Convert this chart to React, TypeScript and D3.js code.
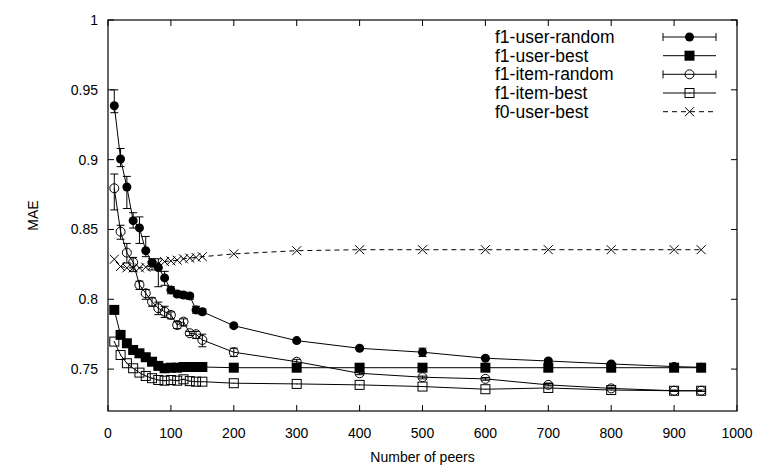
import { useEffect, useRef } from "react";
import * as d3 from "d3";

const peers = [10, 20, 30, 40, 50, 60, 70, 80, 90, 100, 110, 120, 130, 140, 150, 200, 300, 400, 500, 600, 700, 800, 900, 943];

const userRandom = [0.9386, 0.9005, 0.8804, 0.8563, 0.8511, 0.8348, 0.8262, 0.8227, 0.8153, 0.8067, 0.8038, 0.8031, 0.8024, 0.7924, 0.7911, 0.7811, 0.7704, 0.7649, 0.7621, 0.7578, 0.7558, 0.7537, 0.7518, 0.7513];
const userRandomLow = [0.9336, 0.895, 0.865, 0.851, 0.840, 0.8305, 0.821, 0.809, 0.810, 0.804, 0.802, 0.801, 0.800, 0.790, 0.789, 0.780, 0.769, 0.764, 0.759, 0.757, 0.755, 0.753, 0.751, 0.751];
const userRandomHigh = [0.950, 0.908, 0.888, 0.862, 0.859, 0.845, 0.829, 0.829, 0.820, 0.809, 0.806, 0.805, 0.804, 0.795, 0.793, 0.782, 0.771, 0.766, 0.765, 0.759, 0.757, 0.754, 0.753, 0.752];

const userBest = [0.7924, 0.7745, 0.7685, 0.7637, 0.7613, 0.7585, 0.7553, 0.7523, 0.7506, 0.751, 0.751, 0.7515, 0.7515, 0.7515, 0.7515, 0.751, 0.751, 0.751, 0.751, 0.751, 0.751, 0.751, 0.751, 0.751];

const itemRandom = [0.8795, 0.8484, 0.8334, 0.8265, 0.8103, 0.8043, 0.7983, 0.7936, 0.7911, 0.7888, 0.7816, 0.7840, 0.7757, 0.7750, 0.7709, 0.7621, 0.7553, 0.7470, 0.7442, 0.7430, 0.7387, 0.7362, 0.7345, 0.7345];
const itemRandomLow = [0.864, 0.843, 0.826, 0.820, 0.807, 0.800, 0.795, 0.789, 0.787, 0.786, 0.779, 0.781, 0.774, 0.772, 0.766, 0.759, 0.754, 0.746, 0.743, 0.742, 0.738, 0.736, 0.734, 0.734];
const itemRandomHigh = [0.8897, 0.853, 0.840, 0.830, 0.813, 0.807, 0.801, 0.798, 0.795, 0.791, 0.784, 0.786, 0.777, 0.777, 0.775, 0.765, 0.757, 0.748, 0.745, 0.744, 0.740, 0.737, 0.735, 0.735];

const itemBest = [0.7697, 0.7601, 0.7542, 0.7506, 0.7475, 0.7451, 0.7435, 0.7422, 0.7417, 0.7422, 0.7417, 0.7427, 0.7414, 0.741, 0.741, 0.7399, 0.7394, 0.7387, 0.7375, 0.7356, 0.7365, 0.735, 0.7345, 0.7345];

const f0UserBest = [0.8287, 0.8235, 0.8225, 0.8225, 0.8225, 0.823, 0.824, 0.8255, 0.827, 0.8275, 0.828, 0.829, 0.8295, 0.830, 0.8305, 0.8325, 0.8348, 0.8355, 0.8355, 0.8355, 0.8355, 0.8355, 0.8355, 0.8355];

const xTicks = [0, 100, 200, 300, 400, 500, 600, 700, 800, 900, 1000];
const yTicks = [0.75, 0.8, 0.85, 0.9, 0.95, 1];

const SERIES = [
  { name: "f1-user-random", values: userRandom, low: userRandomLow, high: userRandomHigh, marker: "circleFilled", dashed: false },
  { name: "f1-user-best", values: userBest, low: null, high: null, marker: "squareFilled", dashed: false },
  { name: "f1-item-random", values: itemRandom, low: itemRandomLow, high: itemRandomHigh, marker: "circleOpen", dashed: false },
  { name: "f1-item-best", values: itemBest, low: null, high: null, marker: "squareOpen", dashed: false },
  { name: "f0-user-best", values: f0UserBest, low: null, high: null, marker: "cross", dashed: true },
];

const FONT = "'Liberation Sans', Arial, sans-serif";

function drawMarker(g, type, x, y) {
  if (type === "circleFilled") {
    g.append("circle").attr("cx", x).attr("cy", y).attr("r", 4.5).attr("fill", "#000");
  } else if (type === "circleOpen") {
    g.append("circle").attr("cx", x).attr("cy", y).attr("r", 4.5).attr("fill", "none").attr("stroke", "#000").attr("stroke-width", 1);
  } else if (type === "squareFilled") {
    g.append("rect").attr("x", x - 5).attr("y", y - 5).attr("width", 10).attr("height", 10).attr("fill", "#000");
  } else if (type === "squareOpen") {
    g.append("rect").attr("x", x - 4.5).attr("y", y - 4.5).attr("width", 9).attr("height", 9).attr("fill", "none").attr("stroke", "#000").attr("stroke-width", 1);
    g.append("rect").attr("x", x - 0.5).attr("y", y - 0.5).attr("width", 1).attr("height", 1).attr("fill", "#000");
  } else if (type === "cross") {
    g.append("path")
      .attr("d", `M${x - 4.5},${y - 4.5}L${x + 4.5},${y + 4.5}M${x - 4.5},${y + 4.5}L${x + 4.5},${y - 4.5}`)
      .attr("stroke", "#000").attr("stroke-width", 1);
  }
}

function buildChart(svgEl) {
  const width = 762;
  const height = 467;
  const margin = { top: 20, right: 25, bottom: 56, left: 108 };
  const innerW = width - margin.left - margin.right;
  const innerH = height - margin.top - margin.bottom;

  const svg = d3.select(svgEl);
  svg.selectAll("*").remove();

  const x = d3.scaleLinear().domain([0, 1000]).range([margin.left, margin.left + innerW]);
  const y = d3.scaleLinear().domain([0.72, 1]).range([margin.top + innerH, margin.top]);

  const axisG = svg.append("g");
  const tickLen = 6;

  // frame
  axisG.append("rect")
    .attr("x", margin.left).attr("y", margin.top)
    .attr("width", innerW).attr("height", innerH)
    .attr("fill", "none").attr("stroke", "#000").attr("stroke-width", 1.2);

  xTicks.forEach(t => {
    const px = x(t);
    axisG.append("line").attr("x1", px).attr("x2", px)
      .attr("y1", margin.top + innerH).attr("y2", margin.top + innerH - tickLen)
      .attr("stroke", "#000");
    axisG.append("line").attr("x1", px).attr("x2", px)
      .attr("y1", margin.top).attr("y2", margin.top + tickLen)
      .attr("stroke", "#000");
    axisG.append("text")
      .attr("x", px).attr("y", margin.top + innerH + 27)
      .attr("text-anchor", "middle")
      .style("font-family", FONT).style("font-size", "14px")
      .text(t);
  });

  yTicks.forEach(t => {
    const py = y(t);
    axisG.append("line").attr("x1", margin.left).attr("x2", margin.left + tickLen)
      .attr("y1", py).attr("y2", py).attr("stroke", "#000");
    axisG.append("line").attr("x1", margin.left + innerW).attr("x2", margin.left + innerW - tickLen)
      .attr("y1", py).attr("y2", py).attr("stroke", "#000");
    axisG.append("text")
      .attr("x", margin.left - 10).attr("y", py + 5)
      .attr("text-anchor", "end")
      .style("font-family", FONT).style("font-size", "14px")
      .text(d3.format("")(t));
  });

  svg.append("text")
    .attr("x", margin.left + innerW / 2).attr("y", height - 5)
    .attr("text-anchor", "middle")
    .style("font-family", FONT).style("font-size", "14px")
    .text("Number of peers");

  svg.append("text")
    .attr("transform", `translate(38,${margin.top + innerH / 2}) rotate(-90)`)
    .attr("text-anchor", "middle")
    .style("font-family", FONT).style("font-size", "14px")
    .text("MAE");

  const line = d3.line().x(d => x(d[0])).y(d => y(d[1]));

  const plotG = svg.append("g");

  SERIES.forEach(s => {
    const pts = peers.map((p, i) => [p, s.values[i]]);
    plotG.append("path")
      .attr("d", line(pts))
      .attr("fill", "none")
      .attr("stroke", "#000")
      .attr("stroke-width", 1)
      .attr("stroke-dasharray", s.dashed ? "5 4" : null);

    if (s.low) {
      peers.forEach((p, i) => {
        const px = x(p);
        const y0 = y(s.low[i]);
        const y1 = y(s.high[i]);
        plotG.append("path")
          .attr("d", `M${px},${y0}L${px},${y1}M${px - 4},${y0}L${px + 4},${y0}M${px - 4},${y1}L${px + 4},${y1}`)
          .attr("stroke", "#000").attr("stroke-width", 1).attr("fill", "none");
      });
    }

    pts.forEach(d => drawMarker(plotG, s.marker, x(d[0]), y(d[1])));
  });

  // legend
  const legendG = svg.append("g");
  const rowY = [37, 55.7, 74.3, 93, 111.7];
  const textX = 495;
  const sx0 = 663;
  const sx1 = 716;
  SERIES.forEach((s, i) => {
    const ly = rowY[i];
    legendG.append("text")
      .attr("x", textX).attr("y", ly + 6)
      .style("font-family", FONT).style("font-size", "17.5px")
      .text(s.name);
    legendG.append("line")
      .attr("x1", sx0).attr("x2", sx1).attr("y1", ly).attr("y2", ly)
      .attr("stroke", "#000").attr("stroke-width", 1)
      .attr("stroke-dasharray", s.dashed ? "5 4" : null);
    if (s.low) {
      legendG.append("path")
        .attr("d", `M${sx0},${ly - 4}L${sx0},${ly + 4}M${sx1},${ly - 4}L${sx1},${ly + 4}`)
        .attr("stroke", "#000").attr("stroke-width", 1);
    }
    drawMarker(legendG, s.marker, (sx0 + sx1) / 2, ly);
  });
}

export default function App() {
  const svgRef = useRef(null);
  useEffect(() => {
    if (svgRef.current) buildChart(svgRef.current);
  }, []);
  return (
    <div style={{ position: "absolute", left: 0, top: 0 }}>
      <svg ref={svgRef} width={762} height={467} style={{ display: "block", background: "#fff" }} />
    </div>
  );
}
